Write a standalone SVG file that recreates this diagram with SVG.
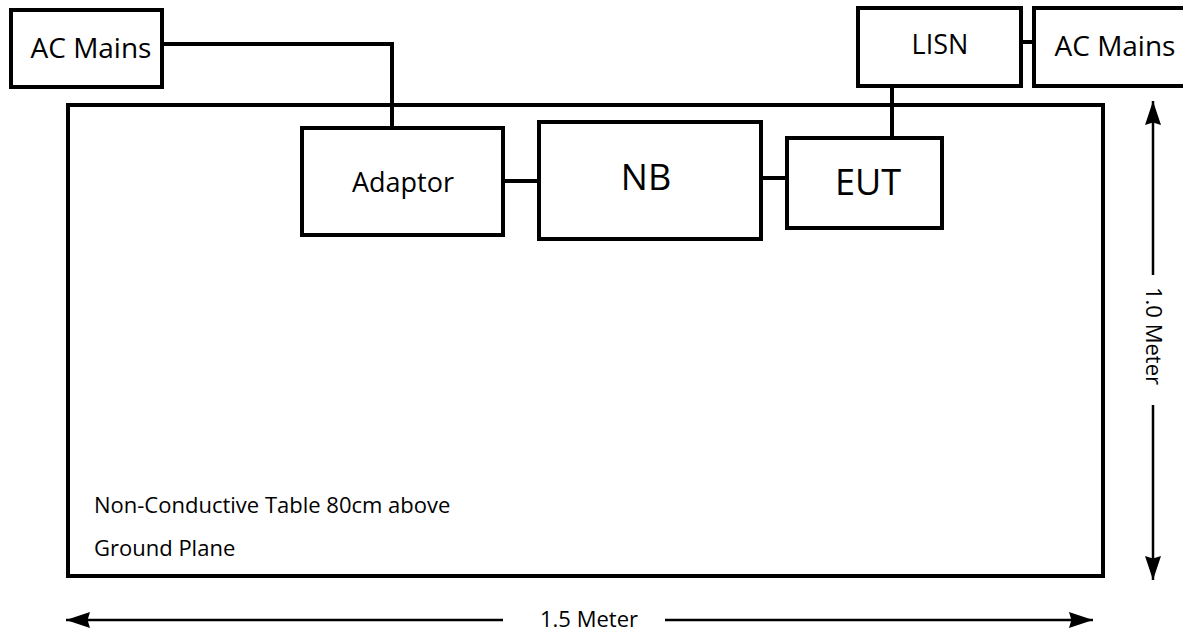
<svg xmlns="http://www.w3.org/2000/svg" width="1183" height="632" viewBox="0 0 1183 632">
<style>
.box{fill:none;stroke:#000;stroke-width:4}
.wire{fill:none;stroke:#000;stroke-width:4}
.dim{fill:none;stroke:#000;stroke-width:2.5}
text{font-family:"Open Sans","Noto Sans",sans-serif;fill:#000}
</style>
<defs>
<marker id="ah" viewBox="0 0 10 10" refX="10" refY="5" markerWidth="24" markerHeight="16" preserveAspectRatio="none" markerUnits="userSpaceOnUse" orient="auto">
<path d="M0,0 L10,5 L0,10 L1,5 z" fill="#000"/>
</marker>
</defs>
<rect width="1183" height="632" fill="#fff"/>
<g id="table">
<rect class="box" x="68" y="105" width="1035" height="471"/>
<text x="94" y="513" font-size="22">Non-Conductive Table 80cm above</text>
<text x="94" y="556" font-size="22">Ground Plane</text>
</g>
<g id="connectors">
<polyline class="wire" points="162,44 392,44 392,127"/>
<line class="wire" x1="503" y1="181" x2="538" y2="181"/>
<line class="wire" x1="761" y1="178" x2="786" y2="178"/>
<line class="wire" x1="1021" y1="42" x2="1033" y2="42"/>
<line class="wire" x1="892" y1="86" x2="892" y2="136"/>
</g>
<g id="ac-mains-left">
<rect class="box" x="11" y="10" width="151" height="77"/>
<text x="91" y="58" font-size="28" text-anchor="middle">AC Mains</text>
</g>
<g id="lisn">
<rect class="box" x="858" y="8" width="163" height="78"/>
<text x="940" y="54" font-size="27" text-anchor="middle">LISN</text>
</g>
<g id="ac-mains-right">
<rect class="box" x="1034" y="8" width="160" height="78"/>
<text x="1115" y="56" font-size="28" text-anchor="middle">AC Mains</text>
</g>
<g id="adaptor">
<rect class="box" x="302" y="128" width="201" height="107"/>
<text x="403" y="192" font-size="27" text-anchor="middle">Adaptor</text>
</g>
<g id="nb">
<rect class="box" x="539" y="122" width="222" height="117"/>
<text x="646" y="190" font-size="36" text-anchor="middle">NB</text>
</g>
<g id="eut">
<rect class="box" x="787" y="138" width="155" height="90"/>
<text x="868" y="195" font-size="36" text-anchor="middle">EUT</text>
</g>
<g id="dimensions">
<line class="dim" x1="1153" y1="275" x2="1153" y2="101" marker-end="url(#ah)"/>
<line class="dim" x1="1153" y1="405" x2="1153" y2="580" marker-end="url(#ah)"/>
<text transform="translate(1146,336) rotate(90)" font-size="22" text-anchor="middle">1.0 Meter</text>
<line class="dim" x1="503" y1="620" x2="66" y2="620" marker-end="url(#ah)"/>
<line class="dim" x1="665" y1="620" x2="1093" y2="620" marker-end="url(#ah)"/>
<text x="589" y="627" font-size="22" text-anchor="middle">1.5 Meter</text>
</g>
</svg>
